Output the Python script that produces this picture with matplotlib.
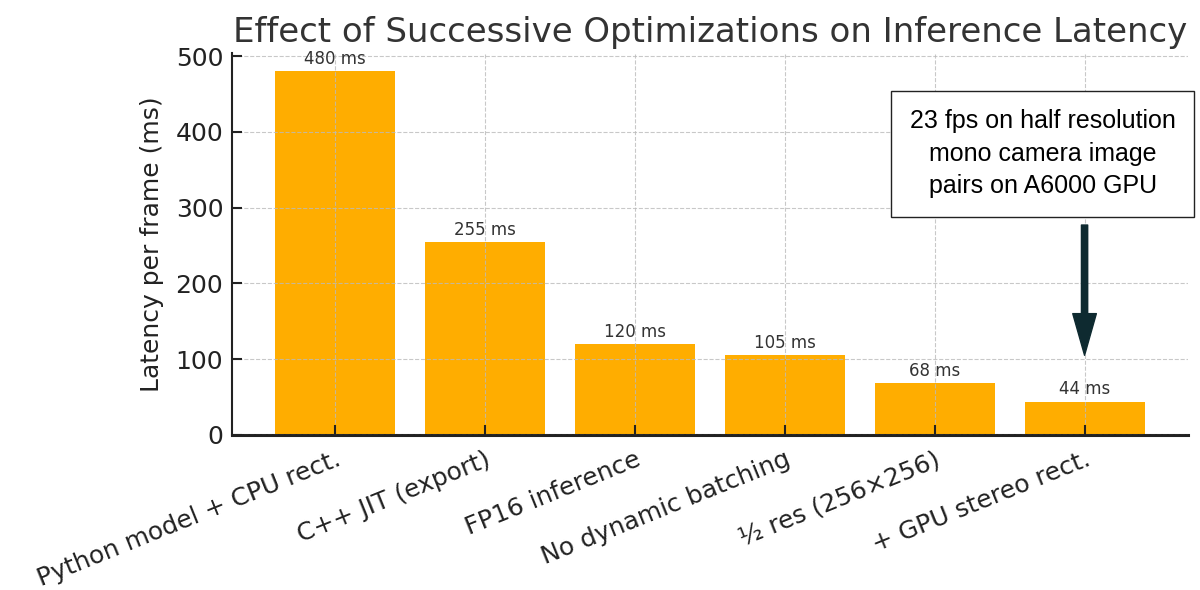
import matplotlib
matplotlib.use('Agg')
from matplotlib import pyplot as plt

steps = ['Python model + CPU rect.', 'C++ JIT (export)', 'FP16 inference',
         'No dynamic batching', '\u00bd res (256\u00d7256)', '+ GPU stereo rect.']
latency_ms = [480, 255, 120, 105, 68, 44]
note = '23 fps on half resolution\nmono camera image\npairs on A6000 GPU'

bar_color = '#FFAD00'
text_color = '#333333'

fig = plt.figure(figsize=(12, 5.9), dpi=100)
ax = fig.add_axes([0.193, 0.263, 0.797, 0.647])

x = list(range(len(steps)))
bars = ax.bar(x, latency_ms, width=0.8, color=bar_color, zorder=2)

for xi, v in zip(x, latency_ms):
    ax.text(xi, v + 4, f'{v} ms', ha='center', va='bottom', fontsize=12, color=text_color, zorder=4)

ax.set_xticks(x)
ax.set_xticklabels(steps, rotation=22, ha='right', rotation_mode='anchor', fontsize=18, color='#222222')
ax.set_yticks([0, 100, 200, 300, 400, 500])
ax.tick_params(axis='y', labelsize=18, colors='#222222', pad=6)
ax.tick_params(axis='x', pad=9)
ax.tick_params(direction='in', length=7, width=1.5, color='#222222')
ax.set_ylabel('Latency per frame (ms)', fontsize=18, color='#222222', labelpad=8)
ax.set_title('Effect of Successive Optimizations on Inference Latency', fontsize=24.5, color=text_color, pad=8)

ax.grid(True, linestyle='--', color='#bbbbbb', linewidth=0.8, alpha=0.8, zorder=3)
ax.set_axisbelow(False)
for s in ['top', 'right']:
    ax.spines[s].set_visible(False)
ax.spines['left'].set_linewidth(1.5)
ax.spines['bottom'].set_linewidth(2.2)
ax.spines['left'].set_color('#222222')
ax.spines['bottom'].set_color('#222222')

# callout box and arrow pointing at the last bar
ax.text(4.72, 371, note, ha='center', va='center', fontsize=18, family='Liberation Sans',
        linespacing=1.45, color='black', zorder=5, clip_on=False,
        bbox=dict(boxstyle='square,pad=0.75', facecolor='white', edgecolor='#222222', linewidth=1))
ax.annotate('', xy=(5, 105), xytext=(5, 277),
            arrowprops=dict(width=4.5, headwidth=17, headlength=30, shrink=0, color='#0e2a30'),
            zorder=5)

fig.savefig('out.png', dpi=100)
